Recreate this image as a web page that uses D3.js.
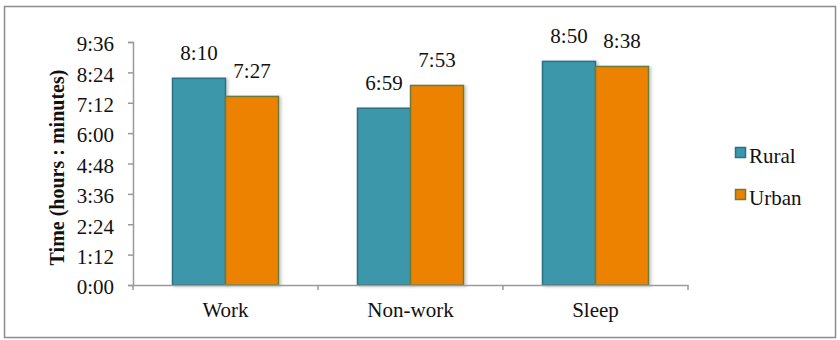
<!DOCTYPE html>
<html>
<head>
<meta charset="utf-8">
<script src="https://cdn.jsdelivr.net/npm/d3@7"></script>
<style>
  html, body { margin: 0; padding: 0; background: #fff; }
  svg { display: block; }
  svg text { font-family: "Liberation Serif", "Times New Roman", serif; }
</style>
</head>
<body>
<svg id="chart" width="840" height="340"></svg>
<script>
// ---- data (minutes) ----
const categories = ["Work", "Non-work", "Sleep"];
const series = ["Rural", "Urban"];
const rural = [490, 419, 530];   // 8:10, 6:59, 8:50
const urban = [447, 473, 518];   // 7:27, 7:53, 8:38
const yTicks = [0, 72, 144, 216, 288, 360, 432, 504, 576];
const colors = { Rural: "#3c97ab", Urban: "#ed8103" };
const strokes = { Rural: "#2c7082", Urban: "#6b7c3b" };

const fmt = m => Math.floor(m / 60) + ":" + String(m % 60).padStart(2, "0");
const FS = 21;
const FONT = "'Liberation Serif', 'Times New Roman', serif";

const svg = d3.select("#chart");
const plot = { left: 133, right: 688, top: 42, bottom: 285 };

// shadow filter
const defs = svg.append("defs");
const f = defs.append("filter").attr("id", "shadow").attr("x", "-20%").attr("y", "-20%").attr("width", "150%").attr("height", "150%");
f.append("feDropShadow").attr("dx", 2).attr("dy", 1).attr("stdDeviation", 1.5).attr("flood-color", "#000").attr("flood-opacity", 0.22);

// outer border
svg.append("rect").attr("x", 4.5).attr("y", 6.5).attr("width", 831).attr("height", 331)
  .attr("fill", "#fff").attr("stroke", "#8c8c8c").attr("stroke-width", 1.5);

const x0 = d3.scaleBand().domain(categories).range([plot.left, plot.right]).padding(0);
const x1 = d3.scaleBand().domain(series).range([0, x0.bandwidth()]).paddingInner(0).paddingOuter(0.745);
const y = d3.scaleLinear().domain([0, 576]).range([plot.bottom, plot.top]);

const rows = categories.map((c, i) => ({ cat: c, vals: [{ s: "Rural", v: rural[i] }, { s: "Urban", v: urban[i] }] }));

// bars
const g = svg.append("g");
const groups = g.selectAll("g.cat").data(rows).join("g").attr("class", "cat")
  .attr("transform", d => `translate(${x0(d.cat)},0)`);
groups.selectAll("rect").data(d => d.vals).join("rect")
  .attr("x", d => x1(d.s))
  .attr("y", d => y(d.v))
  .attr("width", x1.bandwidth())
  .attr("height", d => y(0) - y(d.v))
  .attr("fill", d => colors[d.s])
  .attr("stroke", d => strokes[d.s])
  .attr("stroke-width", 1.5)
  .attr("filter", "url(#shadow)");
groups.selectAll("text").data(d => d.vals).join("text")
  .attr("x", d => x1(d.s) + x1.bandwidth() / 2)
  .attr("y", d => y(d.v) - 18)
  .attr("text-anchor", "middle")
  .style("font-family", FONT)
  .attr("font-size", FS)
  .attr("fill", "#111")
  .text(d => fmt(d.v));

// y axis
const yAxis = d3.axisLeft(y).tickValues(yTicks).tickFormat(fmt).tickSize(5).tickPadding(14);
const ya = svg.append("g").attr("transform", `translate(${plot.left},0)`).call(yAxis);
ya.attr("font-family", null).attr("font-size", null);
ya.select(".domain").attr("stroke", "#9a9a9a").attr("stroke-width", 1.5);
ya.selectAll(".tick line").attr("stroke", "#9a9a9a").attr("stroke-width", 1.5);
ya.selectAll(".tick text").style("font-family", FONT).attr("font-size", FS).attr("fill", "#111").attr("dy", "0.42em");

// x axis
const xa = svg.append("g").attr("transform", `translate(0,${plot.bottom})`);
const xAxis = d3.axisBottom(x0).tickSize(0).tickPadding(17);
xa.call(xAxis);
xa.attr("font-family", null).attr("font-size", null);
xa.select(".domain").attr("stroke", "#9a9a9a").attr("stroke-width", 1.5);
xa.selectAll(".tick text").style("font-family", FONT).attr("font-size", FS).attr("fill", "#111");
// boundary ticks
const bounds = categories.map(c => x0(c)).concat([x0(categories[categories.length - 1]) + x0.bandwidth()]);
xa.selectAll("line.bound").data(bounds).join("line").attr("class", "bound")
  .attr("x1", d => d).attr("x2", d => d).attr("y1", 0).attr("y2", 5)
  .attr("stroke", "#9a9a9a").attr("stroke-width", 1.5);

// y title
svg.append("text")
  .attr("transform", `translate(64,${(plot.top + plot.bottom) / 2 + 4}) rotate(-90)`)
  .attr("text-anchor", "middle")
  .style("font-family", FONT)
  .attr("font-size", 20)
  .attr("font-weight", "bold")
  .attr("fill", "#111")
  .text("Time (hours : minutes)");

// legend
const leg = svg.append("g").attr("transform", "translate(735,147)");
const li = leg.selectAll("g").data(series).join("g").attr("transform", (d, i) => `translate(0,${i * 42})`);
li.append("rect").attr("x", 0.5).attr("y", 0.5).attr("width", 10).attr("height", 10)
  .attr("fill", d => colors[d]).attr("stroke", d => strokes[d]).attr("stroke-width", 1.5);
li.append("text").attr("x", 14).attr("y", 16).style("font-family", FONT).attr("font-size", FS).attr("fill", "#111").text(d => d);
</script>
</body>
</html>
